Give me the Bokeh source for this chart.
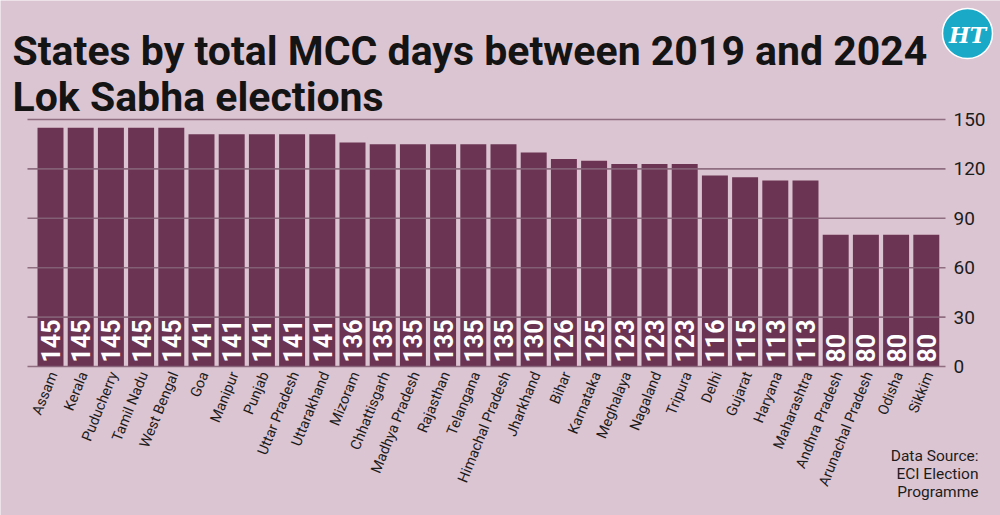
import math
from bokeh.plotting import figure
from bokeh.models import ColumnDataSource, Range1d
from bokeh.core.properties import value
from bokeh.embed import file_html
from bokeh.resources import INLINE

states = ["Assam", "Kerala", "Puducherry", "Tamil Nadu", "West Bengal", "Goa", "Manipur",
          "Punjab", "Uttar Pradesh", "Uttarakhand", "Mizoram", "Chhattisgarh", "Madhya Pradesh",
          "Rajasthan", "Telangana", "Himachal Pradesh", "Jharkhand", "Bihar", "Karnataka",
          "Meghalaya", "Nagaland", "Tripura", "Delhi", "Gujarat", "Haryana", "Maharashtra",
          "Andhra Pradesh", "Arunachal Pradesh", "Odisha", "Sikkim"]
days = [145, 145, 145, 145, 145, 141, 141, 141, 141, 141, 136, 135, 135, 135, 135, 135,
        130, 126, 125, 123, 123, 123, 116, 115, 113, 113, 80, 80, 80, 80]
y_ticks = [0, 30, 60, 90, 120, 150]
y_tick_labels = ["0", "30", "60", "90", "120", "150"]
title_lines = ["States by total MCC days between 2019 and 2024", "Lok Sabha elections"]
source_lines = ["Data Source:", "ECI Election", "Programme"]

BG = "#dcc5d2"
BAR = "#6b3452"
GRID = "#866479"
INK = "#1c1c1c"
FONT = value("Roboto")

W, H = 1000, 515
# layout of the chart area in canvas pixels
X_FIRST, PITCH = 50, 30.2       # centre of first bar, bar pitch
Y_ZERO, Y_TOP, Y_MAX = 366, 119, 150
PX_PER_UNIT = (Y_ZERO - Y_TOP) / Y_MAX


def cx(px):
    """canvas x pixel -> data x"""
    return (px - X_FIRST) / PITCH


def cy(py):
    """canvas y pixel (from top) -> data y"""
    return (Y_ZERO - py) / PX_PER_UNIT


idx = list(range(len(states)))
bars = ColumnDataSource(dict(x=idx, top=days, lab=[str(d) for d in days], name=states))

p = figure(width=W, height=H, output_backend="svg", toolbar_location=None,
           x_range=Range1d(cx(0), cx(W)), y_range=Range1d(cy(H), cy(0)),
           min_border=0, min_border_left=0, min_border_right=0,
           min_border_top=0, min_border_bottom=0)
p.axis.visible = False
p.grid.visible = False
p.background_fill_color = BG
p.border_fill_color = BG
p.outline_line_color = None

# bars
p.vbar(x="x", top="top", width=0.86, bottom=0, source=bars, fill_color=BAR, line_color=None)

# horizontal grid (drawn over the bars, semi-transparent)
p.segment(x0=cx(27), x1=cx(945), y0=y_ticks, y1=y_ticks, line_color=GRID,
          line_width=1.6, line_alpha=0.9)

# value labels inside the bars
p.text(x="x", y=4 / PX_PER_UNIT, text="lab", source=bars, angle=math.pi / 2,
       text_align="left", text_baseline="middle", text_color="white", text_font=FONT,
       text_font_style="bold", text_font_size="25px")

# y tick labels (right side)
p.text(x=cx(953), y=y_ticks, text=y_tick_labels, text_align="left", text_baseline="middle",
       text_color=INK, text_font=FONT, text_font_size="19px")

# category labels (rotated)
p.text(x="x", y=cy(372), text="name", source=bars, angle=math.radians(68),
       x_offset=3, text_align="right", text_baseline="middle", text_color=INK,
       text_font=FONT, text_font_size="14.5px")

# title
p.text(x=[cx(12)] * 2, y=[cy(50), cy(96)], text=title_lines, text_align="left",
       text_baseline="alphabetic", text_color="#141414", text_font=FONT,
       text_font_style="bold", text_font_size="41px")

# data source
p.text(x=[cx(978)] * 3, y=[cy(455), cy(473), cy(491)], text=source_lines,
       text_align="right", text_baseline="middle", text_color=INK, text_font=FONT,
       text_font_size="15.5px")

# HT logo
p.circle(x=[cx(967)], y=[cy(33)], radius=25, radius_units="screen",
         fill_color="#1ba9c8", line_color="white", line_width=1.5)
p.text(x=[cx(967)], y=[cy(34)], text=["HT"], text_align="center", text_baseline="middle",
       text_color="white", text_font=value("DejaVu Serif"), text_font_style="bold italic",
       text_font_size="22px")

open("out.html", "w").write(file_html(p, INLINE))
